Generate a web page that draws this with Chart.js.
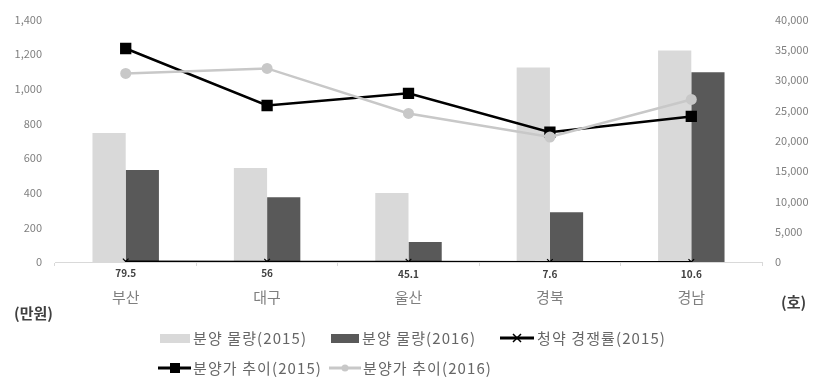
<!DOCTYPE html>
<html>
<head>
<meta charset="utf-8">
<script src="https://cdn.jsdelivr.net/npm/chart.js@4"></script>
<style>
  body { margin: 0; background: #fff; }
  #wrap { position: relative; width: 827px; height: 388px; font-family: "Noto Sans CJK KR", sans-serif; }
  .lbl { position: absolute; font-size: 15px; line-height: 18px; color: #666; white-space: nowrap; letter-spacing: 1.1px; }
  .unit { font-weight: bold; color: #404040; letter-spacing: 0; }
  .sw { position: absolute; }
</style>
</head>
<body>
<div id="wrap">
  <canvas id="chart" width="827" height="388"></canvas>

  <div class="lbl unit" style="left:14px; top:304px;">(만원)</div>
  <div class="lbl unit" style="left:781px; top:293px;">(호)</div>

  <!-- legend row 1 -->
  <div class="sw" style="left:160px; top:334px; width:30px; height:9px; background:#d9d9d9;"></div>
  <div class="lbl" style="left:193px; top:329px;">분양 물량(2015)</div>
  <div class="sw" style="left:331px; top:334px; width:28px; height:9px; background:#595959;"></div>
  <div class="lbl" style="left:362px; top:329px;">분양 물량(2016)</div>
  <svg class="sw" style="left:500px; top:330px;" width="34" height="16">
    <line x1="0" y1="8" x2="34" y2="8" stroke="#000" stroke-width="3"/>
    <path d="M13 4 L21 12 M21 4 L13 12" stroke="#000" stroke-width="1.5"/>
  </svg>
  <div class="lbl" style="left:537px; top:329px;">청약 경쟁률(2015)</div>

  <!-- legend row 2 -->
  <svg class="sw" style="left:158px; top:360px;" width="33" height="16">
    <line x1="0" y1="8" x2="33" y2="8" stroke="#000" stroke-width="3"/>
    <rect x="12" y="3" width="10" height="10" fill="#000"/>
  </svg>
  <div class="lbl" style="left:193px; top:359px;">분양가 추이(2015)</div>
  <svg class="sw" style="left:329px; top:360px;" width="32" height="16">
    <line x1="0" y1="8" x2="32" y2="8" stroke="#c8c8c8" stroke-width="3"/>
    <circle cx="16" cy="8" r="3.5" fill="#c8c8c8"/>
  </svg>
  <div class="lbl" style="left:363px; top:359px;">분양가 추이(2016)</div>
</div>

<script>
const categories = ["부산", "대구", "울산", "경북", "경남"];

// 분양 물량 (호) - right axis
const supply2015 = [21300, 15500, 11400, 32100, 34900];
const supply2016 = [15200, 10700, 3300, 8200, 31300];

// 청약 경쟁률 - right axis (sits on the baseline)
const competition2015 = [79.5, 56, 45.1, 7.6, 10.6];

// 분양가 추이 (만원) - left axis
const price2015 = [1233, 904, 974, 750, 841];
const price2016 = [1089, 1118, 858, 722, 939];

const FONT = "'Noto Sans CJK KR', sans-serif";

/* value labels under the competition line */
const compLabels = {
  id: "compLabels",
  afterDatasetsDraw(chart) {
    const idx = chart.data.datasets.findIndex(d => d.label === "청약 경쟁률(2015)");
    const meta = chart.getDatasetMeta(idx);
    const ctx = chart.ctx;
    ctx.save();
    ctx.font = "bold 10px " + FONT;
    ctx.fillStyle = "#404040";
    ctx.textAlign = "center";
    ctx.textBaseline = "middle";
    meta.data.forEach((pt, i) => {
      ctx.fillText(String(competition2015[i]), pt.x, pt.y + 12);
    });
    ctx.restore();
  }
};

new Chart(document.getElementById("chart"), {
  type: "bar",
  data: {
    labels: categories,
    datasets: [
      {
        type: "line",
        label: "분양가 추이(2016)",
        data: price2016,
        yAxisID: "y",
        borderColor: "#c8c8c8",
        backgroundColor: "#c8c8c8",
        borderWidth: 2.5,
        pointStyle: "circle",
        pointRadius: 5.5,
        pointBorderWidth: 0,
        order: 0
      },
      {
        type: "line",
        label: "분양가 추이(2015)",
        data: price2015,
        yAxisID: "y",
        borderColor: "#000",
        backgroundColor: "#000",
        borderWidth: 2.5,
        pointStyle: "rect",
        pointRadius: 8,
        pointBorderWidth: 0,
        order: 1
      },
      {
        type: "line",
        label: "청약 경쟁률(2015)",
        data: competition2015,
        yAxisID: "y1",
        borderColor: "#000",
        backgroundColor: "#000",
        borderWidth: 2,
        pointStyle: "crossRot",
        pointRadius: 4,
        pointBorderWidth: 1.2,
        order: 2
      },
      {
        label: "분양 물량(2015)",
        data: supply2015,
        yAxisID: "y1",
        backgroundColor: "#d9d9d9",
        categoryPercentage: 0.47,
        barPercentage: 1,
        order: 3
      },
      {
        label: "분양 물량(2016)",
        data: supply2016,
        yAxisID: "y1",
        backgroundColor: "#595959",
        categoryPercentage: 0.47,
        barPercentage: 1,
        order: 4
      }
    ]
  },
  options: {
    responsive: false,
    animation: false,
    layout: { padding: { top: 12, left: 0, right: 0, bottom: 0 } },
    plugins: {
      legend: { display: false },
      tooltip: { enabled: false }
    },
    scales: {
      x: {
        grid: { drawOnChartArea: false, color: "#d9d9d9", tickLength: 4 },
        border: { color: "#d9d9d9" },
        ticks: { color: "#7f7f7f", padding: 22, font: { family: FONT, size: 15 } },
        afterFit: s => { s.height = 126; }
      },
      y: {
        position: "left",
        min: 0,
        max: 1400,
        grid: { display: false, drawTicks: false },
        border: { display: false },
        ticks: {
          stepSize: 200,
          padding: 13,
          color: "#7f7f7f",
          font: { family: FONT, size: 11 },
          callback: v => v.toLocaleString("en-US")
        },
        afterFit: s => { s.width = 55; }
      },
      y1: {
        position: "right",
        min: 0,
        max: 40000,
        grid: { display: false, drawTicks: false },
        border: { display: false },
        ticks: {
          stepSize: 5000,
          padding: 13,
          color: "#7f7f7f",
          font: { family: FONT, size: 11 },
          callback: v => v.toLocaleString("en-US")
        },
        afterFit: s => { s.width = 65; }
      }
    }
  },
  plugins: [compLabels]
});
</script>
</body>
</html>
